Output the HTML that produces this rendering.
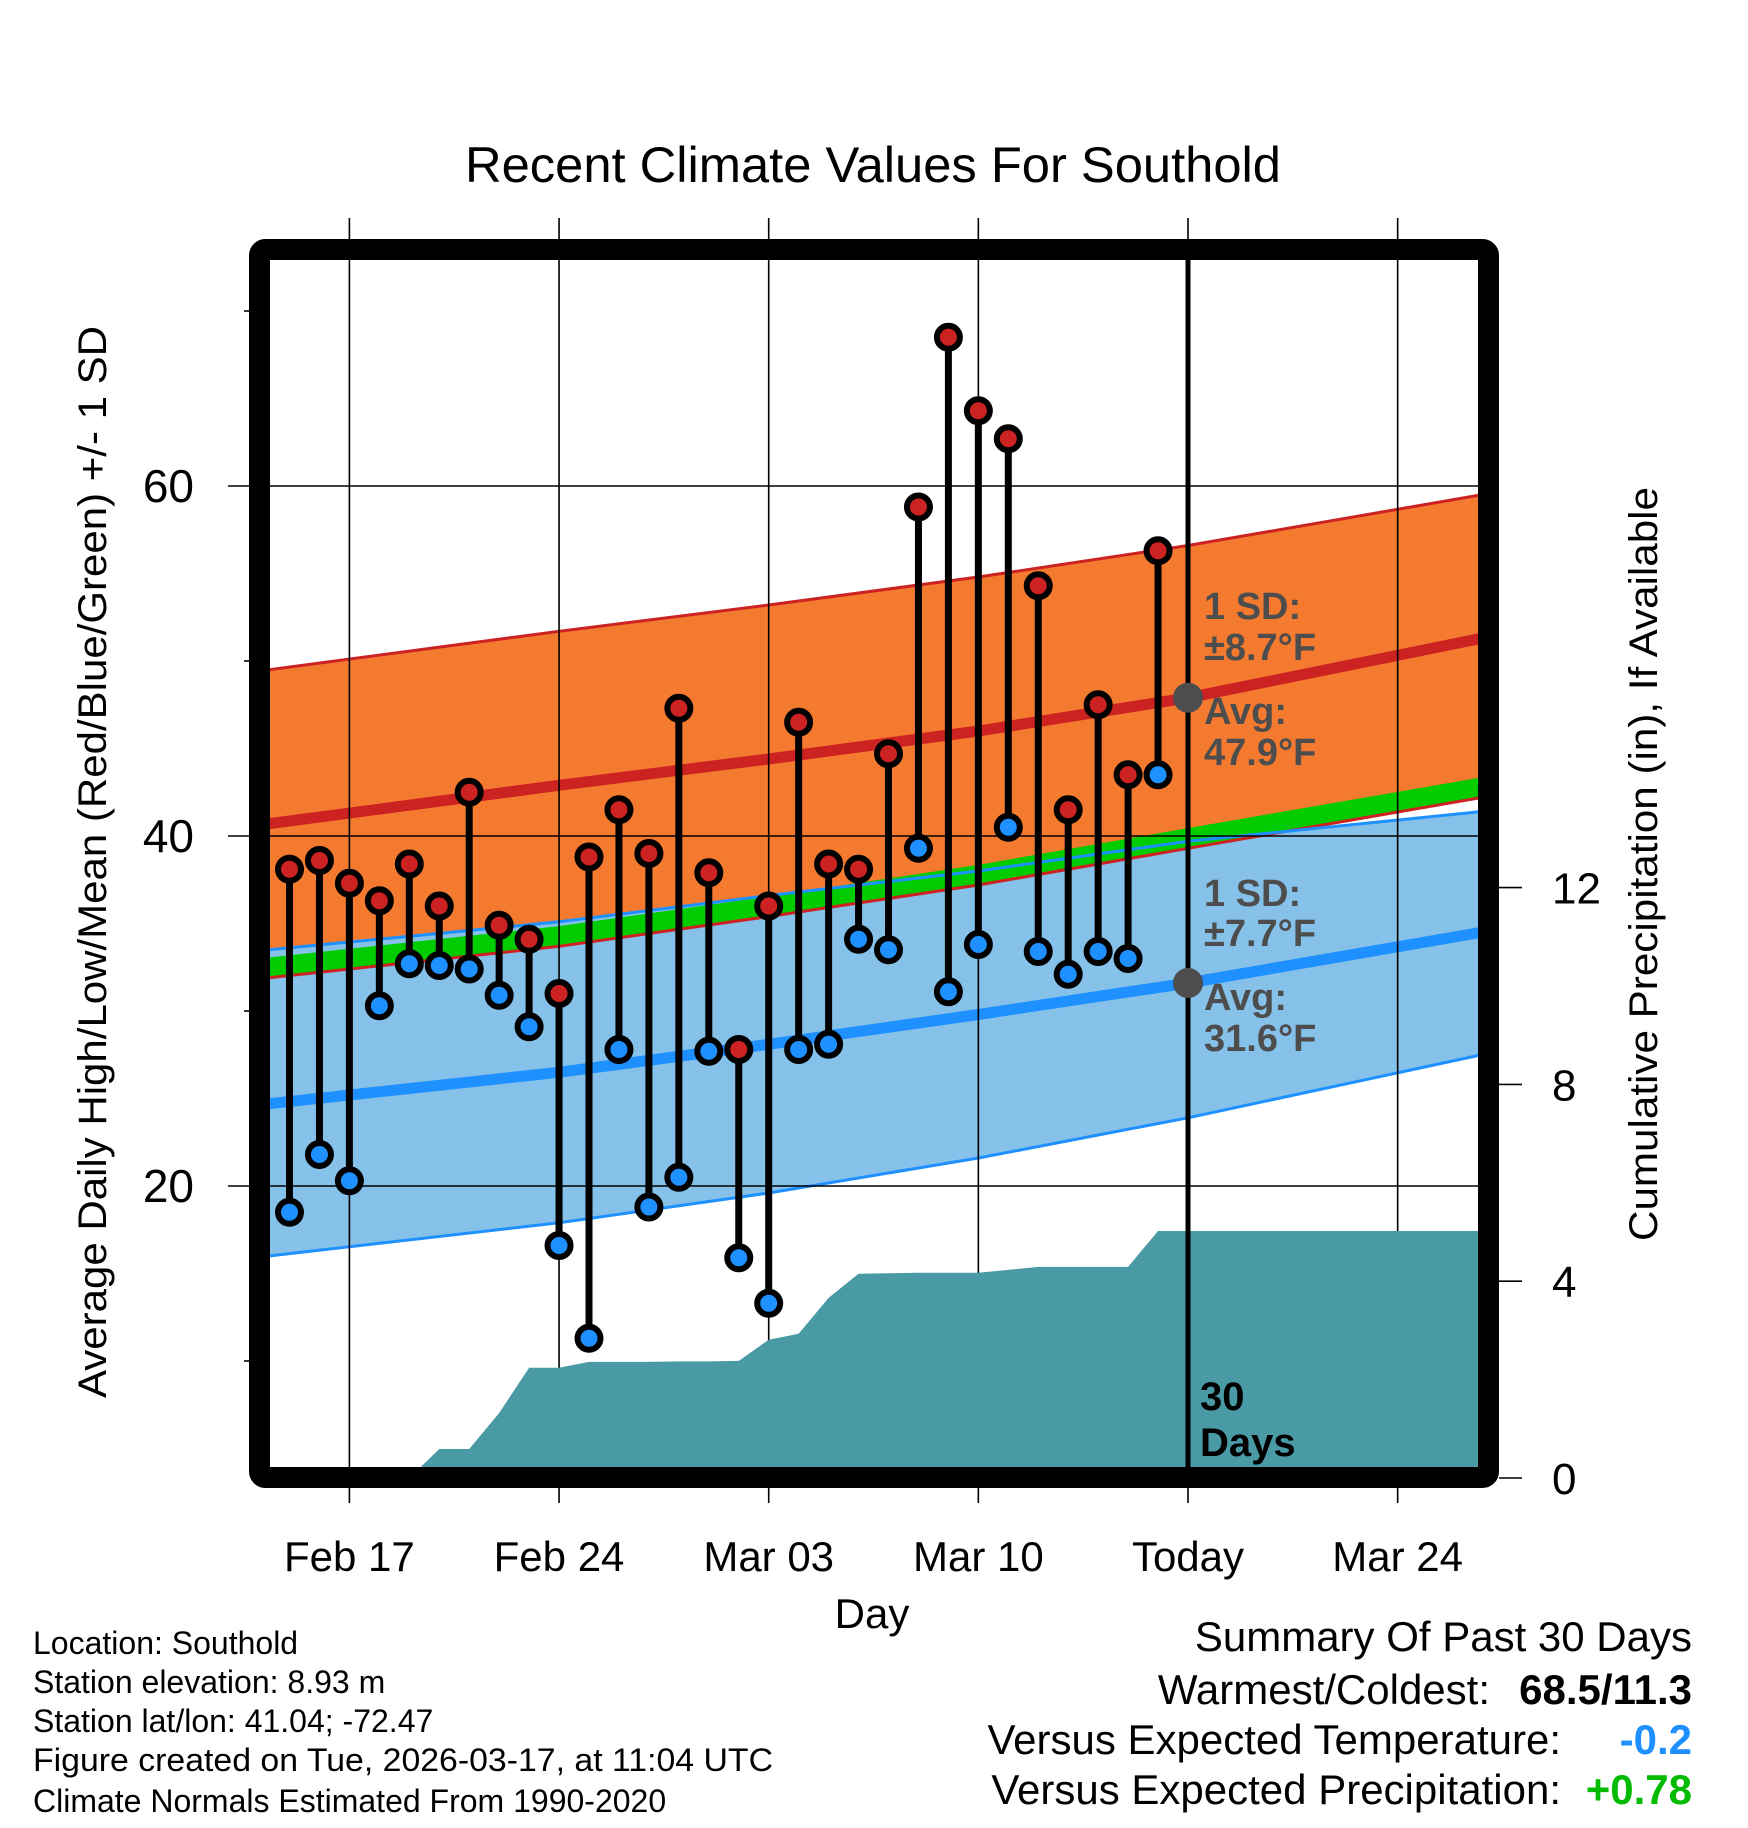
<!DOCTYPE html>
<html><head><meta charset="utf-8"><style>
html,body{margin:0;padding:0;background:#fff}
svg{display:block;font-family:"Liberation Sans",sans-serif}
</style></head><body>
<svg id="chart" width="1748" height="1828" viewBox="0 0 1748 1828" xmlns="http://www.w3.org/2000/svg"></svg>
<script>
// ---- data ----
const dayLabels = ["Feb 17","Feb 24","Mar 03","Mar 10","Today","Mar 24"];
const dayLabelOffsets = [2,9,16,23,30,37];
const highs = [38.1,38.6,37.3,36.3,38.4,36.0,42.5,34.9,34.1,31.0,38.8,41.5,39.0,47.3,37.9,27.8,36.0,46.5,38.4,38.1,44.7,58.8,68.5,64.3,62.7,54.3,41.5,47.5,43.5,56.3];
const lows = [18.5,21.8,20.3,30.3,32.7,32.6,32.4,30.9,29.1,16.6,11.3,27.8,18.8,20.5,27.7,15.9,13.3,27.8,28.1,34.1,33.5,39.3,31.1,33.8,40.5,33.4,32.1,33.4,33.0,43.5];
const precip = [0,0,0,0,0,0.59,0.59,1.32,2.24,2.24,2.36,2.36,2.36,2.37,2.37,2.38,2.81,2.93,3.66,4.15,4.16,4.17,4.17,4.17,4.23,4.29,4.29,4.29,4.29,5.02];
const normDays = [-0.7,9,16,23,30,39.8];
const normHigh = [40.7,42.9,44.4,46.0,47.9,51.3];
const normHighUpper = [49.5,51.7,53.2,54.8,56.6,59.5];
const normHighLower = [31.9,33.7,35.4,37.2,39.3,42.2];
const normLow = [24.7,26.5,28.1,29.8,31.6,34.5];
const normLowUpper = [33.5,35.1,36.6,38.0,39.7,41.4];
const normLowLower = [16.0,17.9,19.6,21.6,23.9,27.5];
const tempTicks = [20,40,60];
const tempMinorTicks = [10,30,50,70];
const precipTicks = [0,4,8,12];
const todayIndex = 30;

// ---- scales ----
const NS="http://www.w3.org/2000/svg";
const svg=document.getElementById('chart');
const X=d=>289.5+d*29.95;
const YT=t=>486+(60-t)*17.5;
const YP=p=>1478-p*49.2;
const L=270,R=1478,T=260,B=1467;
function el(tag,attrs,parent){const e=document.createElementNS(NS,tag);for(const k in attrs)e.setAttribute(k,attrs[k]);(parent||svg).appendChild(e);return e;}
function txt(s,attrs,parent){const e=el('text',attrs,parent);e.textContent=s;return e;}

const defs=el('defs',{});
const cp=el('clipPath',{id:'plotclip'},defs);
el('rect',{x:L,y:T,width:R-L,height:B-T},cp);
const g=el('g',{'clip-path':'url(#plotclip)'});



function linePts(arr){return normDays.map((d,i)=>X(d).toFixed(1)+','+YT(arr[i]).toFixed(1));}
function band(up,lo,fill,name){
  const pts=linePts(up).concat(linePts(lo).reverse());
  const p=el('polygon',{points:pts.join(' '),fill:fill},g);
  
  
}
band(normHighUpper,normHighLower,'#f47a30','high-sd-band');
band(normLowUpper,normLowLower,'#85c1e8','low-sd-band');
const greenUp=normHighLower.map(v=>v+1.15);
band(greenUp,normHighLower,'#00cc00','overlap-band');
function nline(arr,color,w,name){
  const p=el('polyline',{points:linePts(arr).join(' '),fill:'none',stroke:color,'stroke-width':w,'stroke-linejoin':'round'},g);
  
  
}
nline(normHighUpper,'#cc2222',3,'high-upper-line');
nline(normHighLower,'#cc2222',3,'high-lower-line');
nline(normLowUpper,'#1e90ff',3,'low-upper-line');
nline(normLowLower,'#1e90ff',3,'low-lower-line');
nline(normHigh,'#cc2222',11,'normal-high-line');
nline(normLow,'#1e90ff',11,'normal-low-line');

// grid
dayLabelOffsets.forEach((d,i)=>{
  const gl=el('line',{x1:X(d),x2:X(d),y1:218,y2:1503,stroke:'#000','stroke-width':1.6});
  
  
});
tempTicks.forEach(t=>{
  const gl=el('line',{x1:228,x2:R,y1:YT(t),y2:YT(t),stroke:'#000','stroke-width':1.6});
  
  
});
tempMinorTicks.forEach(t=>{
  const tk=el('line',{x1:244,x2:252,y1:YT(t),y2:YT(t),stroke:'#000','stroke-width':1.6});
  
  
});

// precip area
const g2=el('g',{'clip-path':'url(#plotclip)'});


let pp=precip.map((v,i)=>X(i).toFixed(1)+','+YP(v).toFixed(1));
pp.push(R+','+YP(precip[precip.length-1]).toFixed(1));
pp.unshift(X(0)+','+YP(0)); pp.unshift(L+','+YP(0));
pp.push(R+','+YP(0));
const pa=el('polygon',{points:pp.join(' '),fill:'#4a9aa5'},g2);



// stems and dots
highs.forEach((h,i)=>{
  const s=el('line',{x1:X(i),x2:X(i),y1:YT(h),y2:YT(lows[i]),stroke:'#000','stroke-width':7});
  
  
});
highs.forEach((h,i)=>{
  const c=el('circle',{cx:X(i),cy:YT(h),r:11.5,fill:'#cc2222',stroke:'#000','stroke-width':6});
  
  
  const c2=el('circle',{cx:X(i),cy:YT(lows[i]),r:11.5,fill:'#1e90ff',stroke:'#000','stroke-width':6});
  
  
});

// today line
const tl=el('line',{x1:X(todayIndex),x2:X(todayIndex),y1:T,y2:B,stroke:'#000','stroke-width':5});


const gd1=el('circle',{cx:X(todayIndex),cy:YT(normHigh[4]),r:15,fill:'#4d4d4d'});


const gd2=el('circle',{cx:X(todayIndex),cy:YT(normLow[4]),r:15,fill:'#4d4d4d'});



// frame
const fr=el('rect',{x:259.5,y:249.5,width:1229,height:1228,fill:'none',stroke:'#000','stroke-width':21,rx:6});



// ticks and labels
precipTicks.forEach(p=>{
  const tk=el('line',{x1:1499,x2:1522,y1:YP(p),y2:YP(p),stroke:'#000','stroke-width':1.6});
  
  
  const t=txt(String(p),{x:1552,y:YP(p)+16,'font-size':44});
  
  
});
tempTicks.forEach(v=>{
  const t=txt(String(v),{x:194,y:YT(v)+16,'font-size':46,'text-anchor':'end'});
  
  
});
dayLabels.forEach((s,i)=>{
  const t=txt(s,{x:X(dayLabelOffsets[i]),y:1571,'font-size':42,'text-anchor':'middle'});
  
  
});
</script>
<script>
(function(){
const NS="http://www.w3.org/2000/svg";const svg=document.getElementById('chart');
function t(s,a,name){const e=document.createElementNS(NS,'text');for(const k in a)e.setAttribute(k,a[k]);e.textContent=s;svg.appendChild(e);


return e;}
t("Recent Climate Values For Southold",{x:873,y:182,'font-size':50,'text-anchor':'middle',textLength:816,lengthAdjust:'spacingAndGlyphs'},'chart-title');
t("Average Daily High/Low/Mean (Red/Blue/Green) +/- 1 SD",{x:0,y:0,'font-size':40,'text-anchor':'middle',transform:'translate(106,862) rotate(-90)',textLength:1072,lengthAdjust:'spacingAndGlyphs'},'y-axis-title');
t("Cumulative Precipitation (in), If Available",{x:0,y:0,'font-size':40,'text-anchor':'middle',transform:'translate(1657,864) rotate(-90)',textLength:754,lengthAdjust:'spacingAndGlyphs'},'y2-axis-title');
t("Day",{x:872,y:1628,'font-size':42,'text-anchor':'middle'},'x-axis-title');
const info=["Location: Southold","Station elevation: 8.93 m","Station lat/lon: 41.04; -72.47","Figure created on Tue, 2026-03-17, at 11:04 UTC","Climate Normals Estimated From 1990-2020"];
const ib=[1654,1693,1732,1771,1812];
info.forEach((s,i)=>{const e=t(s,{x:33,y:ib[i],'font-size':32},'station-info-line');if(i==3){e.setAttribute('textLength',740);e.setAttribute('lengthAdjust','spacingAndGlyphs');}});
t("Summary Of Past 30 Days",{x:1692,y:1651,'font-size':42,'text-anchor':'end'},'summary-title');
t("Warmest/Coldest:",{x:1490,y:1704,'font-size':42,'text-anchor':'end'},'warmest-coldest-label');
t("68.5/11.3",{x:1692,y:1704,'font-size':42,'text-anchor':'end','font-weight':'bold'},'warmest-coldest-value');
t("Versus Expected Temperature:",{x:1561,y:1754,'font-size':42,'text-anchor':'end'},'temp-departure-label');
t("-0.2",{x:1692,y:1754,'font-size':42,'text-anchor':'end','font-weight':'bold',fill:'#1e90ff'},'temp-departure-value');
t("Versus Expected Precipitation:",{x:1561,y:1804,'font-size':42,'text-anchor':'end'},'precip-departure-label');
t("+0.78",{x:1692,y:1804,'font-size':42,'text-anchor':'end','font-weight':'bold',fill:'#00bb00'},'precip-departure-value');
const an=[["1 SD:",619],["±8.7°F",660],["Avg:",724],["47.9°F",765],["1 SD:",906],["±7.7°F",946],["Avg:",1010],["31.6°F",1051]];
an.forEach(a=>{t(a[0],{x:1204,y:a[1],'font-size':38,'font-weight':'bold',fill:'#4d4d4d'},'normal-annotation');});
t("30",{x:1200,y:1410,'font-size':40,'font-weight':'bold'},'days-label');
t("Days",{x:1200,y:1456,'font-size':40,'font-weight':'bold'},'days-label');
})();
</script>
</body></html>
